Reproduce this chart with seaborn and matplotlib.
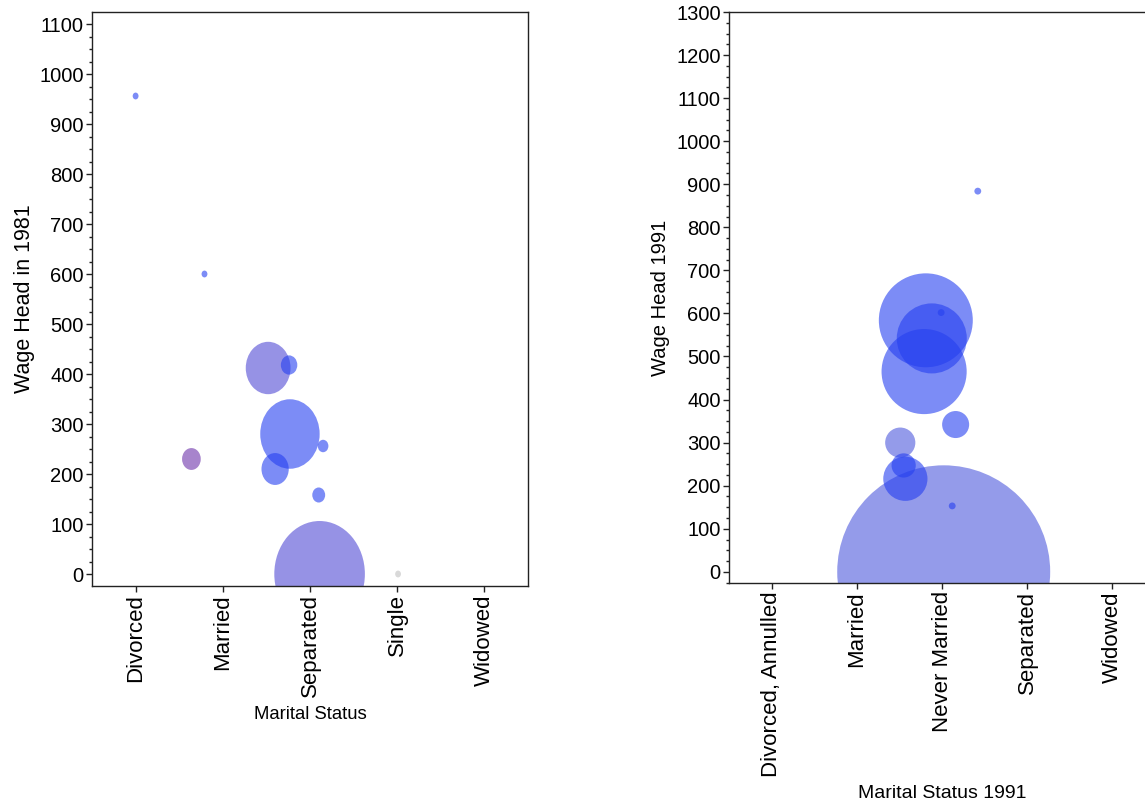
import numpy as np
import pandas as pd
import seaborn as sns
import matplotlib.pyplot as plt
from matplotlib.path import Path
from matplotlib.ticker import MultipleLocator

# 1981 panel
status81 = ["Divorced", "Married", "Separated", "Single", "Widowed"]
cat81 = ["Divorced", "Married", "Married", "Separated", "Separated", "Separated",
         "Separated", "Separated", "Separated", "Separated", "Single"]
jit81 = [0.0, -0.21, -0.36, -0.48, -0.24, -0.23, -0.40, 0.15, 0.10, 0.11, 0.01]
wage81 = [956, 600, 230, 412, 418, 280, 210, 256, 158, 0, 0]
n81 = [1, 1, 13, 76, 10, 134, 28, 4, 6, 312, 1]
grp81 = ["blue", "blue", "magenta", "purple", "blue", "blue", "blue", "blue",
         "blue", "purple", "gray"]

# 1991 panel
status91 = ["Divorced, Annulled", "Married", "Never Married", "Separated", "Widowed"]
cat91 = ["Never Married"] * 11
jit91 = [0.02, -0.19, -0.12, -0.21, -0.01, 0.16, -0.49, -0.43, -0.45, 0.12, 0.42]
wage91 = [0, 584, 542, 465, 602, 342, 300, 216, 247, 153, 884]
n91 = [1260, 245, 136, 201, 1, 20, 25, 54, 16, 1, 1]
grp91 = ["lavender", "blue", "blue", "blue", "blue", "blue", "lavender", "blue",
         "blue", "blue", "blue"]

palette = {"blue": "#253FF0", "purple": "#5049D5", "magenta": "#6C32AA",
           "lavender": "#4D58DC", "gray": "#C0C0C0"}

sns.set_style("ticks")
plt.rcParams['font.family'] = ['Liberation Sans', 'DejaVu Sans']
plt.rcParams['text.color'] = 'black'
plt.rcParams['axes.labelcolor'] = 'black'

fig = plt.figure(figsize=(11.45, 8.06), dpi=100)
ax1 = fig.add_axes([92 / 1145, 1 - 586 / 806, 436 / 1145, 574 / 806])
ax2 = fig.add_axes([729 / 1145, 1 - 583 / 806, 426 / 1145, 571 / 806])

# bubbles in the 1981 panel are a bit taller than wide
circ = Path.unit_circle()
ellipse = Path(circ.vertices * np.array([1 / 1.17, 1.0]), circ.codes)

scale = 18.66  # points^2 per unit of n


def bubbles(ax, status, cat, jit, wage, n, grp, marker, fs):
    df = pd.DataFrame({"cat": cat, "jit": jit, "wage": wage, "n": n, "grp": grp})
    df["x"] = df["cat"].map({s: i for i, s in enumerate(status)}) + df["jit"]
    lo, hi = min(n), max(n)
    sns.scatterplot(data=df, x="x", y="wage", hue="grp", size="n", palette=palette,
                    sizes=(lo * scale * 1.3, hi * scale), size_norm=(lo, hi),
                    marker=marker, alpha=0.6, linewidth=0, legend=False, ax=ax)
    ax.set_xticks(range(len(status)))
    ax.set_xticklabels(status, rotation=90, fontsize=fs)
    ax.set_xlim(-0.5, len(status) - 0.5)


bubbles(ax1, status81, cat81, jit81, wage81, n81, grp81, ellipse, 16)
bubbles(ax2, status91, cat91, jit91, wage91, n91, grp91, "o", 16)

ax1.set_ylim(-24, 1124)
ax1.set_yticks(range(0, 1101, 100))
ax2.set_ylim(-26, 1300)
ax2.set_yticks(range(0, 1301, 100))

ax1.set_xlabel("Marital Status", fontsize=13.3, labelpad=6)
ax1.set_ylabel("Wage Head in 1981", fontsize=15.5, labelpad=3)
ax2.set_xlabel("Marital Status 1991", fontsize=14, labelpad=6)
ax2.set_ylabel("Wage Head 1991", fontsize=14.5)

for ax in (ax1, ax2):
    ax.yaxis.set_minor_locator(MultipleLocator(25))
    ax.tick_params(axis="y", which="major", labelsize=14.5)
    ax.tick_params(axis="both", which="major", length=4, width=1,
                   color="#222222", labelcolor="black", pad=2)
    ax.tick_params(axis="y", which="minor", length=2.5, width=1, color="#222222")
    for sp in ax.spines.values():
        sp.set_visible(True)
        sp.set_color("#222222")
        sp.set_linewidth(1)

fig.savefig("out.png", dpi=100)
